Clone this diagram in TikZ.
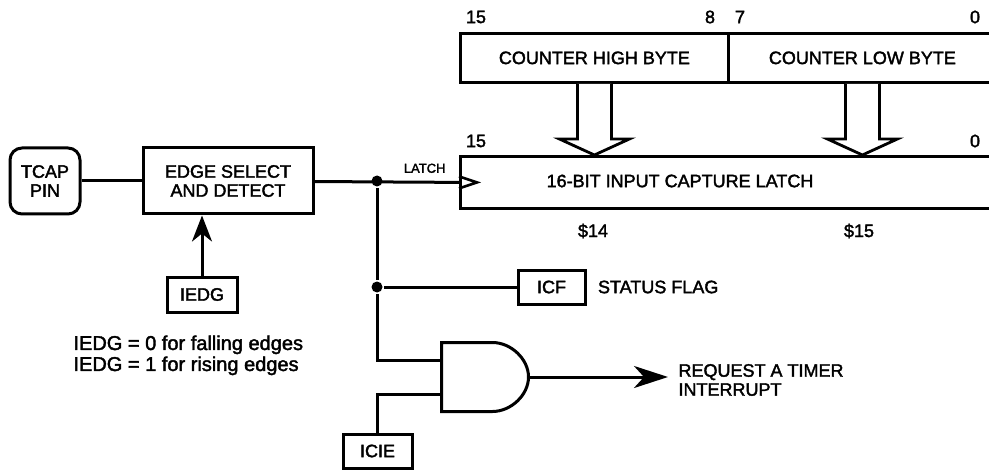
\documentclass[tikz,border=0pt]{standalone}
\usepackage{fontspec}
\setmainfont{Liberation Sans}[FakeBold=2]
\usepackage{tikz}
\usetikzlibrary{arrows.meta, positioning, calc}
\tikzstyle{box} = [draw, line width=1.5pt, inner sep=0pt, align=center, font=\fontsize{9}{9.5}\selectfont]
\tikzstyle{reg} = [draw, line width=1.4pt, inner sep=0pt, anchor=north west, font=\fontsize{9}{9.5}\selectfont]
\tikzstyle{lbl} = [inner sep=0pt, align=left, font=\fontsize{9}{9.5}\selectfont]
\tikzstyle{dot} = [circle, fill=black, inner sep=0pt, minimum size=5.5pt]
\tikzstyle{hollow} = [line width=1.4pt, fill=white, line join=miter]
\tikzstyle{arrow} = [line width=1.5pt, -{Stealth[length=13pt, width=10pt, inset=4pt]}]
\tikzstyle{bigarrow} = [line width=1.5pt, -{Stealth[length=17pt, width=11pt, inset=5pt]}]

\begin{document}
\begin{tikzpicture}[x=0.5pt, y=-0.5pt, line width=1.5pt]
          \useasboundingbox (0,0) rectangle (989,470);

          \node[box, rounded corners=6pt, minimum width=35pt, minimum height=33pt] (tcap) at (45,181) {TCAP\\PIN};
          \node[box, minimum width=85pt, minimum height=33pt] (edge) at (228,181) {EDGE SELECT\\AND DETECT};
          \node[box, minimum width=35pt, minimum height=17.5pt] (iedg) at (202,294.5) {IEDG};
          \node[lbl, anchor=north west, font=\fontsize{10}{10.5}\selectfont] (iedgnote) at (72,334) {IEDG = 0 for falling edges\\IEDG = 1 for rising edges};

          \node[reg, minimum width=134pt, minimum height=24.5pt] (cnthi) at (459,32) {COUNTER HIGH BYTE};
          \node[reg, minimum width=134pt, minimum height=24.5pt] (cntlo) at (727,32) {COUNTER LOW BYTE};
          \node[reg, minimum width=268pt, minimum height=26pt] (latch) at (459,155) {};
          \node[lbl] (latchtxt) at (680,181) {16-BIT INPUT CAPTURE LATCH};
          \node[lbl, font=\fontsize{6.5}{7}\selectfont, above left=4pt and 6pt of latch.west] (latchlbl) {LATCH};

          \foreach \x/\y/\t [count=\i] in {476/17/15, 710/17/8, 740/17/7, 975/17/0, 476/141/15, 975/141/0, 593/231/\$14, 859/231/\$15}
              \node[lbl] (bit-\i) at (\x,\y) {\t};

          \node[dot] (j1) at (377,181) {};
          \node[dot] (j2) at (377,287) {};
          \node[box, minimum width=33.5pt, minimum height=17pt] (icf) at (551.5,287) {ICF};
          \node[lbl, right=5pt of icf] (status) {STATUS FLAG};

          \node[minimum width=42pt, minimum height=33pt, inner sep=0pt] (gate) at (485,377) {};
          \coordinate (in1) at ($(gate.west)+(0,-17)$);
          \coordinate (in2) at ($(gate.west)+(0,17)$);
          \node[box, minimum width=34.5pt, minimum height=17pt] (icie) at (377.5,451) {ICIE};
          \node[lbl, anchor=west, inner xsep=4.5pt] (req) at (668,380) {REQUEST A TIMER\\INTERRUPT};

          \draw (gate.north west) -- ($(gate.north west)+(51,0)$)
              .. controls ($(gate.north west)+(69.2,0)$) and ($(gate.east)+(0,-18.2)$) .. (gate.east)
              .. controls ($(gate.east)+(0,18.2)$) and ($(gate.south west)+(69.2,0)$) .. ($(gate.south west)+(51,0)$)
              -- (gate.south west) -- cycle;
          \draw[line width=1.3pt] ($(latch.west)+(0,-6)$) -- ++(18,6) -- ++(-18,6);

          \foreach \r in {cnthi,cntlo}
              \draw[hollow] ($(\r.south)+(-17,0)$) |- ($(\r.south |- latch.north)+(-35,-16)$) -- (\r.south |- latch.north)
                  -- ($(\r.south |- latch.north)+(35,-16)$) -| ($(\r.south)+(17,0)$);

          \draw (tcap) -- (edge);
          \draw (edge) -- (latch.west);
          \draw[arrow] (iedg) -- (iedg |- edge.south);
          \draw (j1) -- (j2);
          \draw (j2) -- (icf);
          \draw (j2) |- (in1);
          \draw (icie) |- (in2);
          \draw[bigarrow] (gate.east) -- (gate.east -| req.west);
      \end{tikzpicture}
\end{document}
